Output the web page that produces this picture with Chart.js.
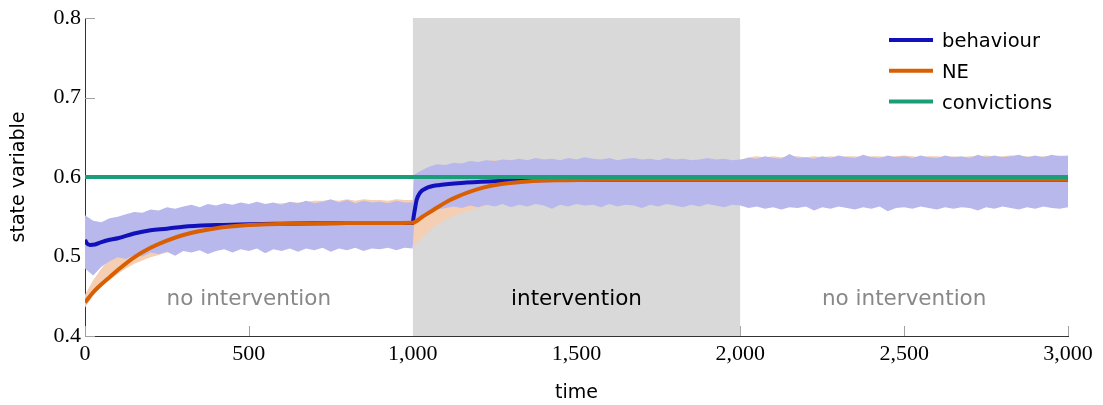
<!DOCTYPE html>
<html>
<head>
<meta charset="utf-8">
<script src="https://cdn.jsdelivr.net/npm/chart.js@4.4.1/dist/chart.umd.min.js"></script>
<style>
  body { margin: 0; background: #fff; }
  #wrap { width: 1103px; height: 405px; }
</style>
</head>
<body>
<div id="wrap"><canvas id="chart" width="1103" height="405"></canvas></div>
<script>
// time grid of the shaded bands (step 25, plus one extra point right after the switch)
const bandTime = [
  0, 25, 50, 75, 100, 125, 150, 175, 200, 225, 250, 275, 300, 325, 350, 375, 400, 425, 450, 475,
  500, 525, 550, 575, 600, 625, 650, 675, 700, 725, 750, 775, 800, 825, 850, 875, 900, 925, 950, 975,
  1000, 1005,
  1025, 1050, 1075, 1100, 1125, 1150, 1175, 1200, 1225, 1250, 1275, 1300, 1325, 1350, 1375, 1400, 1425, 1450, 1475, 1500,
  1525, 1550, 1575, 1600, 1625, 1650, 1675, 1700, 1725, 1750, 1775, 1800, 1825, 1850, 1875, 1900, 1925, 1950, 1975, 2000,
  2025, 2050, 2075, 2100, 2125, 2150, 2175, 2200, 2225, 2250, 2275, 2300, 2325, 2350, 2375, 2400, 2425, 2450, 2475, 2500,
  2525, 2550, 2575, 2600, 2625, 2650, 2675, 2700, 2725, 2750, 2775, 2800, 2825, 2850, 2875, 2900, 2925, 2950, 2975, 3000
];

// behaviour band (upper / lower edge)
const behaviourHi = [
  0.552, 0.545, 0.543, 0.548, 0.550, 0.553, 0.556, 0.555, 0.559, 0.558,
  0.562, 0.560, 0.563, 0.565, 0.562, 0.566, 0.564, 0.567, 0.565, 0.568,
  0.566, 0.569, 0.566, 0.568, 0.565, 0.569, 0.567, 0.570, 0.567, 0.569,
  0.572, 0.568, 0.571, 0.567, 0.570, 0.568, 0.569, 0.567, 0.570, 0.568,
  0.568, 0.603,
  0.608, 0.613, 0.616, 0.615, 0.618, 0.617, 0.620, 0.619, 0.621, 0.620,
  0.622, 0.621, 0.623, 0.621, 0.624, 0.622, 0.623, 0.621, 0.624, 0.622,
  0.625, 0.623, 0.622, 0.624, 0.621, 0.623, 0.624, 0.622, 0.623, 0.621,
  0.624, 0.622, 0.623, 0.621, 0.622, 0.624, 0.622, 0.623, 0.621, 0.622,
  0.624, 0.623, 0.626, 0.624, 0.623, 0.629, 0.624, 0.625, 0.623, 0.626,
  0.624, 0.627, 0.625, 0.624, 0.628, 0.625, 0.624, 0.627, 0.625, 0.626,
  0.624, 0.627, 0.625, 0.624, 0.627, 0.625, 0.626, 0.624, 0.628, 0.625,
  0.627, 0.625, 0.626, 0.628, 0.625, 0.627, 0.625, 0.628, 0.626, 0.627
];
const behaviourLo = [
  0.485, 0.476, 0.487, 0.494, 0.499, 0.497, 0.502, 0.500, 0.505, 0.503,
  0.506, 0.501, 0.507, 0.505, 0.508, 0.503, 0.507, 0.509, 0.505, 0.509,
  0.507, 0.510, 0.504, 0.509, 0.507, 0.510, 0.506, 0.510, 0.508, 0.511,
  0.506, 0.510, 0.508, 0.511, 0.507, 0.510, 0.509, 0.511, 0.508, 0.511,
  0.510, 0.545,
  0.551, 0.556, 0.559, 0.561, 0.563, 0.561, 0.564, 0.562, 0.565, 0.563,
  0.566, 0.562, 0.565, 0.563, 0.566, 0.564, 0.560, 0.565, 0.563, 0.566,
  0.564, 0.565, 0.562, 0.566, 0.563, 0.565, 0.564, 0.561, 0.565, 0.563,
  0.566, 0.564, 0.562, 0.565, 0.563, 0.566, 0.564, 0.562, 0.565, 0.564,
  0.561, 0.563, 0.560, 0.562, 0.559, 0.562, 0.561, 0.563, 0.558, 0.562,
  0.560, 0.563, 0.561, 0.559, 0.562, 0.560, 0.563, 0.557, 0.561, 0.562,
  0.560, 0.563, 0.561, 0.559, 0.562, 0.560, 0.562, 0.561, 0.558, 0.562,
  0.560, 0.563, 0.561, 0.559, 0.562, 0.560, 0.563, 0.561, 0.560, 0.562
];

// NE band (upper / lower edge)
const neHi = [
  0.452, 0.470, 0.485, 0.497, 0.507, 0.515, 0.522, 0.528, 0.533, 0.537,
  0.541, 0.545, 0.548, 0.551, 0.554, 0.556, 0.558, 0.560, 0.562, 0.563,
  0.564, 0.565, 0.566, 0.566, 0.567, 0.568, 0.568, 0.569, 0.570, 0.570,
  0.571, 0.570, 0.572, 0.570, 0.572, 0.571, 0.571, 0.570, 0.572, 0.571,
  0.571, 0.578,
  0.588, 0.597, 0.604, 0.609, 0.613, 0.616, 0.618, 0.619, 0.620, 0.621,
  0.621, 0.622, 0.621, 0.622, 0.621, 0.622, 0.622, 0.621, 0.622, 0.621,
  0.622, 0.621, 0.622, 0.622, 0.621, 0.622, 0.621, 0.622, 0.622, 0.621,
  0.622, 0.621, 0.622, 0.622, 0.621, 0.622, 0.621, 0.622, 0.622, 0.621,
  0.625, 0.626, 0.625, 0.626, 0.625, 0.626, 0.626, 0.625, 0.626, 0.625,
  0.626, 0.625, 0.626, 0.626, 0.625, 0.626, 0.626, 0.625, 0.626, 0.627,
  0.626, 0.625, 0.626, 0.626, 0.625, 0.626, 0.625, 0.626, 0.626, 0.627,
  0.626, 0.626, 0.627, 0.626, 0.626, 0.625, 0.626, 0.626, 0.627, 0.626
];
const neLo = [
  0.436, 0.451, 0.462, 0.471, 0.478, 0.485, 0.491, 0.495, 0.499, 0.502,
  0.505, 0.507, 0.508, 0.510, 0.511, 0.512, 0.512, 0.513, 0.513, 0.514,
  0.513, 0.514, 0.514, 0.513, 0.514, 0.514, 0.515, 0.514, 0.514, 0.515,
  0.514, 0.515, 0.514, 0.515, 0.514, 0.515, 0.514, 0.515, 0.515, 0.514,
  0.514, 0.514,
  0.522, 0.532, 0.540, 0.546, 0.551, 0.555, 0.558, 0.561, 0.564, 0.566,
  0.567, 0.568, 0.568, 0.569, 0.569, 0.569, 0.569, 0.569, 0.569, 0.569,
  0.569, 0.569, 0.569, 0.569, 0.569, 0.569, 0.569, 0.569, 0.569, 0.569,
  0.569, 0.569, 0.569, 0.569, 0.569, 0.569, 0.569, 0.569, 0.569, 0.569,
  0.568, 0.569, 0.568, 0.569, 0.568, 0.569, 0.568, 0.569, 0.568, 0.569,
  0.568, 0.569, 0.568, 0.569, 0.568, 0.569, 0.568, 0.569, 0.568, 0.569,
  0.568, 0.569, 0.568, 0.569, 0.568, 0.569, 0.568, 0.569, 0.568, 0.569,
  0.568, 0.569, 0.568, 0.569, 0.568, 0.569, 0.568, 0.569, 0.568, 0.569
];

// mean lines
const behaviourTime = [0, 5, 15, 30, 50, 75, 100, 150, 200, 250, 300, 400, 500, 600, 700, 800, 900, 1000,
  1003, 1007, 1012, 1022, 1042, 1083, 1165, 1266, 1368, 1500, 2000, 3000];
const behaviourVals = [0.521, 0.517, 0.5145, 0.515, 0.518, 0.521, 0.523, 0.529, 0.533, 0.535, 0.5375, 0.5395, 0.5407, 0.5413, 0.5417, 0.542, 0.542, 0.542,
  0.550, 0.560, 0.571, 0.580, 0.586, 0.590, 0.593, 0.595, 0.596, 0.5965, 0.5965, 0.5965];

const neTime = [0, 25, 50, 75, 100, 150, 200, 250, 300, 400, 500, 600, 700, 800, 1000,
  1030, 1063, 1114, 1165, 1215, 1266, 1368, 1470, 1600, 3000];
const neVals = [0.442, 0.455, 0.465, 0.474, 0.483, 0.499, 0.511, 0.520, 0.527, 0.5355, 0.5395, 0.541, 0.5415, 0.542, 0.5425,
  0.550, 0.5585, 0.571, 0.580, 0.5866, 0.5908, 0.595, 0.596, 0.5966, 0.5966];

const convictionsTime = [0, 3000];
const convictionsVals = [0.6, 0.6];

// shaded intervention period
const interventionSpan = [1000, 2000];

const regionCenters = [500, 1500, 2500];
const regionLabels = ['no intervention', 'intervention', 'no intervention'];
const regionColors = ['#888888', '#000000', '#888888'];

const BLUE = '#1111bb';
const ORANGE = '#d95f02';
const GREEN = '#1b9e77';

function pts(xs, ys) {
  return xs.map((x, i) => ({ x: x, y: ys[i] }));
}

const decorPlugin = {
  id: 'decor',
  beforeDatasetsDraw(chart) {
    // inward tick marks
    const { ctx, chartArea: a, scales: { x, y } } = chart;
    ctx.save();
    ctx.strokeStyle = '#a0a0a0';
    ctx.lineWidth = 1;
    ctx.beginPath();
    x.ticks.forEach(t => {
      const px = Math.round(x.getPixelForValue(t.value)) + 0.5;
      ctx.moveTo(px, a.bottom);
      ctx.lineTo(px, a.bottom - 10);
    });
    y.ticks.forEach(t => {
      const py = Math.round(y.getPixelForValue(t.value)) + 0.5;
      ctx.moveTo(a.left, py);
      ctx.lineTo(a.left + 10, py);
    });
    ctx.stroke();
    ctx.restore();
  },
  afterDatasetsDraw(chart) {
    const { ctx, chartArea: a, scales: { x } } = chart;
    ctx.save();
    ctx.font = '21.5px "DejaVu Sans"';
    ctx.textAlign = 'center';
    ctx.textBaseline = 'alphabetic';
    regionCenters.forEach((c, i) => {
      ctx.fillStyle = regionColors[i];
      ctx.fillText(regionLabels[i], x.getPixelForValue(c), a.bottom - 31);
    });

    // legend, top right inside the plot
    const items = chart.data.datasets.filter(d => d.inLegend);
    ctx.textAlign = 'left';
    ctx.font = '19.5px "DejaVu Sans"';
    items.forEach((d, i) => {
      const ly = a.top + 22 + i * 30.8;
      const lx = a.right - 179;
      ctx.strokeStyle = d.borderColor;
      ctx.lineWidth = 4;
      ctx.beginPath();
      ctx.moveTo(lx, ly);
      ctx.lineTo(lx + 44, ly);
      ctx.stroke();
      ctx.fillStyle = '#000';
      ctx.fillText(d.label, lx + 53, ly + 7);
    });
    ctx.restore();
  }
};

const hidden = 'rgba(0,0,0,0)';

new Chart(document.getElementById('chart'), {
  type: 'line',
  data: {
    datasets: [
      { label: 'behaviour', inLegend: true, data: pts(behaviourTime, behaviourVals), borderColor: BLUE, borderWidth: 4, fill: false, cubicInterpolationMode: 'monotone', order: 3 },
      { label: 'NE', inLegend: true, data: pts(neTime, neVals), borderColor: ORANGE, borderWidth: 4, fill: false, cubicInterpolationMode: 'monotone', order: 2 },
      { label: 'convictions', inLegend: true, data: pts(convictionsTime, convictionsVals), borderColor: GREEN, borderWidth: 4, fill: false, order: 1 },
      { label: 'behaviour low', data: pts(bandTime, behaviourLo), borderColor: hidden, borderWidth: 0, fill: false, order: 5 },
      { label: 'behaviour high', data: pts(bandTime, behaviourHi), borderColor: hidden, borderWidth: 0, fill: '-1', backgroundColor: 'rgb(184,184,236)', order: 4 },
      { label: 'NE low', data: pts(bandTime, neLo), borderColor: hidden, borderWidth: 0, fill: false, order: 7 },
      { label: 'NE high', data: pts(bandTime, neHi), borderColor: hidden, borderWidth: 0, fill: '-1', backgroundColor: 'rgb(244,207,179)', order: 6 },
      { label: 'intervention', data: pts(interventionSpan, [0.8, 0.8]), borderColor: hidden, borderWidth: 0, fill: 'start', backgroundColor: '#d9d9d9', order: 8, clip: { left: 0, top: 0, right: 0, bottom: 2 } }
    ]
  },
  options: {
    responsive: false,
    animation: false,
    events: [],
    layout: { padding: { top: 18, right: 35, left: 0, bottom: 0 } },
    elements: { point: { radius: 0 }, line: { tension: 0 } },
    plugins: { legend: { display: false }, tooltip: { enabled: false } },
    scales: {
      x: {
        type: 'linear', min: 0, max: 3000,
        ticks: {
          stepSize: 500, autoSkip: false, maxRotation: 0, color: '#000', padding: 5,
          font: { family: 'Liberation Serif', size: 22 },
          callback: v => v.toLocaleString('en-US')
        },
        grid: { drawOnChartArea: false, drawTicks: false },
        border: { color: '#333', width: 1 },
        title: { display: true, text: 'time', color: '#000', font: { family: 'DejaVu Sans', size: 19 }, padding: { top: 0, bottom: 1 } },
        afterFit: s => { s.height = 69; }
      },
      y: {
        type: 'linear', min: 0.4, max: 0.8,
        ticks: {
          stepSize: 0.1, color: '#000', padding: 4,
          font: { family: 'Liberation Serif', size: 22 },
          callback: v => v.toFixed(1)
        },
        grid: { drawOnChartArea: false, drawTicks: false },
        border: { color: '#333', width: 1 },
        title: { display: true, text: 'state variable', color: '#000', font: { family: 'DejaVu Sans', size: 19 }, padding: { top: 8, bottom: 0 } },
        afterFit: s => { s.width = 85; }
      }
    }
  },
  plugins: [decorPlugin]
});
</script>
</body>
</html>
